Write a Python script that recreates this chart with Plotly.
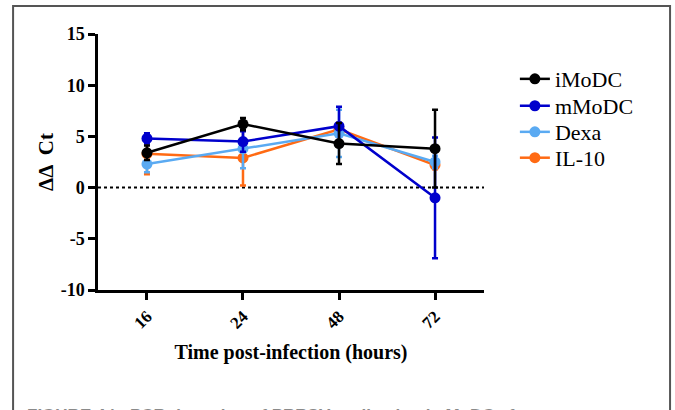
import plotly.graph_objects as go

times = ["16", "24", "48", "72"]
series_names = ["iMoDC", "mMoDC", "Dexa", "IL-10"]
imodc = [3.4, 6.2, 4.3, 3.8]
imodc_err = [0.7, 0.6, 2.0, 3.8]
mmodc = [4.8, 4.5, 6.0, -1.0]
mmodc_err = [0.5, 1.0, 1.9, 5.9]
dexa = [2.3, 3.8, 5.3, 2.5]
dexa_err = [0.8, 1.9, 2.3, 0.6]
il10 = [3.3, 2.9, 5.7, 2.2]
il10_err = [2.0, 2.7, 0.6, 0.4]
y_ticks = [-10, -5, 0, 5, 10, 15]
y_tick_labels = ["-10", "-5", "0", "5", "10", "15"]
colors = ["#000000", "#0000CC", "#5AAAF2", "#FF6A13"]

values = [imodc, mmodc, dexa, il10]
errors = [imodc_err, mmodc_err, dexa_err, il10_err]
legend_ids = ["legend", "legend2", "legend3", "legend4"]
legend_y = [0.824, 0.719, 0.617, 0.516]

font_serif = "Liberation Serif"

fig = go.Figure()
for i in [3, 2, 1, 0]:
    fig.add_trace(go.Scatter(
        x=times, y=values[i], name=series_names[i], mode="lines+markers",
        line=dict(color=colors[i], width=2.5),
        marker=dict(color=colors[i], size=11),
        error_y=dict(type="data", array=errors[i], color=colors[i], thickness=2.5, width=3),
        legend=legend_ids[i],
    ))

legend_layout = {}
for i, lid in enumerate(legend_ids):
    legend_layout[lid] = dict(x=1.08, y=legend_y[i], xanchor="left", yanchor="middle",
                              font=dict(family=font_serif, size=22, color="black"),
                              itemwidth=30, bgcolor="rgba(0,0,0,0)")

fig.update_layout(
    width=675, height=410,
    margin=dict(l=98, r=191, t=34, b=120),
    paper_bgcolor="white", plot_bgcolor="white",
    font=dict(family=font_serif, color="black"),
    showlegend=True,
    xaxis=dict(type="category", categoryorder="array", categoryarray=times,
               tickvals=times, ticktext=["<b>" + t + "</b>" for t in times],
               range=[-0.51, 3.51], showgrid=False, zeroline=False,
               showline=True, linecolor="black", linewidth=2.5,
               ticks="outside", ticklen=7, tickwidth=2.5, tickcolor="black",
               tickangle=-45,
               tickfont=dict(family=font_serif, size=17, color="black"),
               title=dict(text="<b>Time post-infection (hours)</b>", standoff=14,
                          font=dict(family=font_serif, size=20, color="black"))),
    yaxis=dict(range=[-10, 15], tickvals=y_ticks,
               ticktext=["<b>" + t + "</b>" for t in y_tick_labels],
               showgrid=False, zeroline=False,
               showline=True, linecolor="black", linewidth=2.5,
               ticks="outside", ticklen=7, tickwidth=2.5, tickcolor="black",
               tickfont=dict(family=font_serif, size=18, color="black"),
               title=dict(text="<b>ΔΔ  Ct</b>", standoff=2,
                          font=dict(family=font_serif, size=21, color="black"))),
    **legend_layout,
)

# dotted zero line
fig.add_shape(type="line", xref="paper", yref="y", x0=0, x1=1, y0=0, y1=0,
              line=dict(color="black", width=2, dash="dot"), layer="below")

# figure border
fig.add_shape(type="rect", xref="paper", yref="paper",
              x0=-0.22, x1=1.482, y0=-0.6, y1=1.109,
              line=dict(color="#555555", width=2), layer="below")

# caption (cut off at bottom, as in the reference)
fig.add_annotation(xref="paper", yref="paper", x=-0.19, y=-0.445,
                   xanchor="left", yanchor="top", showarrow=False,
                   text="<b>FIGURE 4 | qPCR detection of PRRSV replication in MoDC after</b>",
                   font=dict(family="Liberation Sans", size=17, color="#8a8a8a"))

fig.write_html("out.html", config={"displayModeBar": False},
               post_script="document.body.style.margin='0';")
